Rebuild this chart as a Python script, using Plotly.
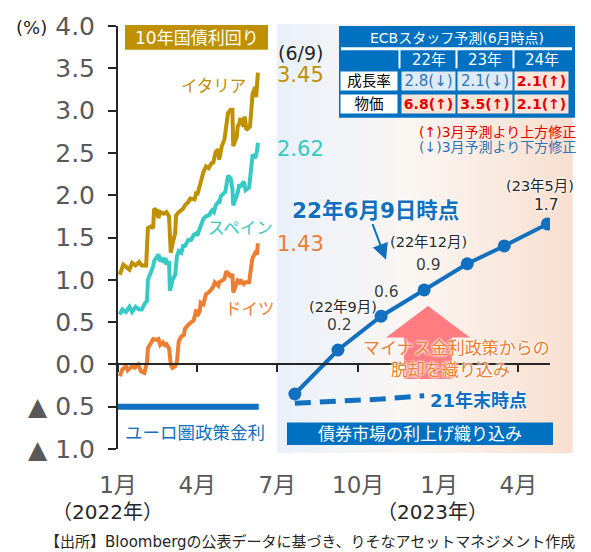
import plotly.graph_objects as go

# ---------------- data ----------------
italy_dates = ["2022-01-03","2022-01-07","2022-01-14","2022-01-17","2022-01-21","2022-01-25","2022-01-28",
               "2022-02-02","2022-02-03","2022-02-04","2022-02-07","2022-02-10","2022-02-11","2022-02-14",
               "2022-02-16","2022-02-18","2022-02-22","2022-02-25","2022-02-28","2022-03-01","2022-03-02",
               "2022-03-04","2022-03-07","2022-03-08","2022-03-11","2022-03-16","2022-03-18","2022-03-22",
               "2022-03-24","2022-03-29","2022-03-31","2022-04-01","2022-04-05","2022-04-08","2022-04-11",
               "2022-04-14","2022-04-18","2022-04-19","2022-04-22","2022-04-25","2022-04-26","2022-04-29",
               "2022-05-02","2022-05-04","2022-05-06","2022-05-09","2022-05-11","2022-05-12","2022-05-16",
               "2022-05-17","2022-05-19","2022-05-20","2022-05-24","2022-05-25","2022-05-27","2022-05-31",
               "2022-06-02","2022-06-03","2022-06-06","2022-06-07","2022-06-08","2022-06-09"]
italy_vals = [1.06,1.18,1.12,1.20,1.17,1.21,1.17,
              1.17,1.40,1.61,1.63,1.61,1.84,1.82,
              1.73,1.80,1.78,1.80,1.75,1.40,1.32,
              1.43,1.55,1.76,1.80,1.84,1.88,1.92,
              1.96,1.95,2.04,2.00,2.16,2.27,2.34,
              2.32,2.39,2.37,2.51,2.54,2.42,2.58,
              2.66,2.81,2.97,3.01,3.01,2.58,2.69,
              2.81,2.85,2.91,2.81,2.93,2.77,2.81,
              3.04,3.20,3.28,3.16,3.30,3.45]

spain_dates = ["2022-01-03","2022-01-06","2022-01-10","2022-01-14","2022-01-17","2022-01-21","2022-01-25",
               "2022-01-28","2022-02-01","2022-02-03","2022-02-04","2022-02-07","2022-02-10","2022-02-11",
               "2022-02-14","2022-02-16","2022-02-18","2022-02-21","2022-02-22","2022-02-24","2022-02-25",
               "2022-02-28","2022-03-01","2022-03-03","2022-03-04","2022-03-07","2022-03-09","2022-03-11",
               "2022-03-14","2022-03-16","2022-03-18","2022-03-22","2022-03-25","2022-03-28","2022-03-31",
               "2022-04-01","2022-04-05","2022-04-08","2022-04-11","2022-04-14","2022-04-18","2022-04-20",
               "2022-04-22","2022-04-25","2022-04-26","2022-04-28","2022-05-03","2022-05-05","2022-05-06",
               "2022-05-09","2022-05-11","2022-05-12","2022-05-16","2022-05-17","2022-05-19","2022-05-20",
               "2022-05-24","2022-05-26","2022-05-30","2022-06-01","2022-06-02","2022-06-03","2022-06-06",
               "2022-06-08","2022-06-09"]
spain_vals = [0.59,0.65,0.62,0.68,0.62,0.68,0.65,
              0.65,0.73,0.75,1.00,1.08,1.16,1.22,
              1.28,1.30,1.22,1.26,1.20,1.26,1.18,
              1.22,0.87,0.95,1.00,1.06,1.28,1.34,
              1.32,1.40,1.40,1.47,1.47,1.53,1.55,
              1.52,1.65,1.72,1.75,1.76,1.82,1.80,
              1.88,1.92,1.90,1.99,2.04,2.19,2.23,
              2.20,2.08,1.88,1.99,2.03,2.13,2.10,
              2.16,2.06,2.09,2.25,2.42,2.48,2.44,
              2.52,2.62]

germany_dates = ["2022-01-03","2022-01-06","2022-01-10","2022-01-12","2022-01-17","2022-01-20","2022-01-24",
                 "2022-01-27","2022-01-31","2022-02-02","2022-02-03","2022-02-04","2022-02-08","2022-02-10",
                 "2022-02-14","2022-02-16","2022-02-18","2022-02-21","2022-02-23","2022-02-25","2022-02-28",
                 "2022-03-02","2022-03-04","2022-03-07","2022-03-09","2022-03-10","2022-03-11","2022-03-14",
                 "2022-03-17","2022-03-18","2022-03-23","2022-03-28","2022-03-29","2022-03-31","2022-04-01",
                 "2022-04-04","2022-04-05","2022-04-08","2022-04-11","2022-04-14","2022-04-19","2022-04-21",
                 "2022-04-25","2022-04-26","2022-04-29","2022-05-02","2022-05-04","2022-05-06","2022-05-09",
                 "2022-05-11","2022-05-12","2022-05-16","2022-05-17","2022-05-19","2022-05-20","2022-05-24",
                 "2022-05-26","2022-05-30","2022-05-31","2022-06-02","2022-06-03","2022-06-06","2022-06-08",
                 "2022-06-09"]
germany_vals = [-0.14,-0.06,-0.02,-0.07,-0.02,-0.04,0.00,
                -0.08,-0.10,-0.03,0.03,0.19,0.25,0.30,
                0.29,0.30,0.23,0.26,0.23,0.24,0.19,
                0.00,-0.04,-0.02,0.03,0.23,0.27,0.33,
                0.35,0.42,0.48,0.52,0.58,0.65,0.57,
                0.63,0.73,0.71,0.83,0.85,0.91,0.97,
                0.93,0.97,0.99,1.01,1.10,1.08,1.03,
                1.07,0.85,0.95,0.99,0.97,1.00,0.95,
                0.97,0.97,1.08,1.20,1.26,1.32,1.30,
                1.43]

policy_dates = ["2022-01-01", "2022-06-10"]
policy_vals = [-0.5, -0.5]

meeting_dates = ["2022-07-21","2022-09-08","2022-10-27","2022-12-15","2023-02-02","2023-03-16","2023-05-04"]
pricing_jun9 = [-0.35, 0.17, 0.57, 0.88, 1.19, 1.40, 1.66]
end21_dates = ["2022-07-21","2022-09-08","2022-10-27","2022-12-15"]
pricing_end21 = [-0.46, -0.44, -0.41, -0.37]

x_tick_dates = ["2022-01-01","2022-04-01","2022-07-01","2022-10-01","2023-01-01","2023-04-01"]
x_tick_labels = ["1月","4月","7月","10月","1月","4月"]
y_tick_vals = [-1.0,-0.5,0.0,0.5,1.0,1.5,2.0,2.5,3.0,3.5,4.0]
y_tick_labels = ["▲ 1.0","▲ 0.5","0.0","0.5","1.0","1.5","2.0","2.5","3.0","3.5","4.0"]

ecb_years = ["22年","23年","24年"]
ecb_rows = ["成長率","物価"]
ecb_values = [[2.8, 2.1, 2.1], [6.8, 3.5, 2.1]]
ecb_revision = [["↓","↓","↑"], ["↑","↑","↑"]]

# ---------------- layout helpers ----------------
W, H = 591, 552
L, R, T, B = 118, 41, 20, 103
PW = W - L - R
PH = H - T - B
FONT = "DejaVu Sans, Noto Sans CJK JP, sans-serif"

def px(x):
    return (x - L) / PW

def py(y):
    return (H - B - y) / PH

GOLD = "#BF9000"
TURQ = "#36C9C6"
ORANGE = "#ED7D31"
BLUE = "#1170C0"
BOXBLUE = "#0070C0"
RED = "#E60000"
LBLUE = "#2E75B6"
GRAY = "#595959"
HALO = "0px 0px 3px white, 0px 0px 3px white, 0px 0px 2px white"

fig = go.Figure()
fig.add_trace(go.Scatter(x=italy_dates, y=italy_vals, mode="lines",
                         line=dict(color=GOLD, width=4), hoverinfo="skip"))
fig.add_trace(go.Scatter(x=spain_dates, y=spain_vals, mode="lines",
                         line=dict(color=TURQ, width=4), hoverinfo="skip"))
fig.add_trace(go.Scatter(x=germany_dates, y=germany_vals, mode="lines",
                         line=dict(color=ORANGE, width=4), hoverinfo="skip"))
fig.add_trace(go.Scatter(x=policy_dates, y=policy_vals, mode="lines",
                         line=dict(color=BLUE, width=6), hoverinfo="skip"))
fig.add_trace(go.Scatter(x=end21_dates, y=pricing_end21, mode="lines",
                         line=dict(color=BLUE, width=5, dash="16px,9px"), hoverinfo="skip"))
fig.add_trace(go.Scatter(x=meeting_dates, y=pricing_jun9, mode="lines+markers",
                         line=dict(color=BLUE, width=4),
                         marker=dict(color=BLUE, size=13), hoverinfo="skip"))
# invisible trace to host the bottom label axis
fig.add_trace(go.Scatter(x=x_tick_dates, y=[None]*len(x_tick_dates), xaxis="x2",
                         mode="markers", marker=dict(opacity=0), hoverinfo="skip"))

# ---------------- shapes ----------------
shapes = []
def lerp(a, b, t):
    return tuple(a[i] + (b[i] - a[i]) * t for i in range(3))
c0, c1, c2 = (234, 241, 250), (250, 246, 243), (249, 223, 207)
gx0, gx1, gy0, gy1 = 277, 572, 18, 453
N = 60
for i in range(N):
    t = (i + 0.5) / N
    c = lerp(c0, c1, t / 0.45) if t < 0.45 else lerp(c1, c2, (t - 0.45) / 0.55)
    xa = gx0 + (gx1 - gx0) * i / N
    xb = gx0 + (gx1 - gx0) * (i + 1) / N + 0.6
    shapes.append(dict(type="rect", xref="paper", yref="paper", layer="below",
                       x0=px(xa), x1=px(xb), y0=py(gy1), y1=py(gy0),
                       fillcolor="rgb(%d,%d,%d)" % tuple(int(round(v)) for v in c),
                       line=dict(width=0)))
shapes.append(dict(type="rect", xref="paper", yref="paper", x0=px(125), x1=px(268),
                   y0=py(44), y1=py(19), fillcolor=GOLD, line=dict(width=0)))
shapes.append(dict(type="rect", xref="paper", yref="paper", x0=px(287), x1=px(553),
                   y0=py(445), y1=py(422), fillcolor=BOXBLUE, line=dict(width=0)))
pts = [(428, 304), (470, 336), (452, 336), (452, 378), (404, 378), (404, 336), (386, 336)]
path = "M " + " L ".join("%f,%f" % (px(a), py(b)) for a, b in pts) + " Z"
shapes.append(dict(type="path", xref="paper", yref="paper", path=path,
                   fillcolor="#FF7C80", line=dict(width=0), layer="above"))
shapes.append(dict(type="rect", xref="paper", yref="paper", x0=px(339), x1=px(575),
                   y0=py(113), y1=py(20), fillcolor=BOXBLUE, line=dict(width=0)))
shapes.append(dict(type="line", xref="paper", yref="paper", x0=px(341), x1=px(572),
                   y0=py(43), y1=py(43), line=dict(color="white", width=3)))
for sx in [399.5, 456.5, 513.5]:
    shapes.append(dict(type="line", xref="paper", yref="paper", x0=px(sx), x1=px(sx),
                       y0=py(43), y1=py(63), line=dict(color="white", width=2)))

# ---------------- annotations ----------------
ann = []
def text(x, y, t, size, color, xanchor="center", shadow=None, **kw):
    f = dict(size=size, color=color, family=FONT)
    if shadow:
        f["shadow"] = shadow
    d = dict(x=px(x), y=py(y), xref="paper", yref="paper", text=t, showarrow=False,
             font=f, xanchor=xanchor, yanchor="middle")
    d.update(kw)
    ann.append(d)

text(31, 22, "(%)", 18, "#262626")
text(197, 32, "10年国債利回り", 17, "white")
text(300, 47, "(6/9)", 19, "#262626")
text(300, 70, "%.2f" % italy_vals[-1], 21, GOLD)
text(300, 145, "%.2f" % spain_vals[-1], 21, TURQ)
text(300, 241, "%.2f" % germany_vals[-1], 21, ORANGE)
text(213, 81, "イタリア", 16.5, GOLD)
text(240, 225, "スペイン", 16.5, TURQ)
text(250, 308, "ドイツ", 16.5, ORANGE)
text(195, 433, "ユーロ圏政策金利", 17.5, BLUE)
text(420, 434, "債券市場の利上げ織り込み", 17, "white")
text(375, 207, "<b>22年6月9日時点</b>", 21.5, BLUE, shadow=HALO)
ann.append(dict(x=px(386), y=py(257), xref="paper", yref="paper", text="",
                showarrow=True, ax=-14, ay=-37, arrowcolor=BLUE, arrowwidth=2,
                arrowhead=2, arrowsize=1.6))
text(428, 239, "(22年12月)", 14.5, "#262626", shadow=HALO)
text(428, 262, "%.1f" % pricing_jun9[3], 15.5, "#404040", shadow=HALO)
text(386, 290, "%.1f" % pricing_jun9[2], 15.5, "#404040", shadow=HALO)
text(343, 305, "(22年9月)", 14.5, "#262626", shadow=HALO)
text(339, 323, "%.1f" % pricing_jun9[1], 15.5, "#404040", shadow=HALO)
text(540, 182, "(23年5月)", 14.5, "#262626", shadow=HALO)
text(546, 202, "%.1f" % pricing_jun9[-1], 15.5, "#262626", shadow=HALO)
text(456, 347, "マイナス金利政策からの", 17, ORANGE, shadow=HALO)
text(450, 369, "脱却を織り込み", 17, ORANGE, shadow=HALO)
text(478, 400, "<b>21年末時点</b>", 18, BLUE, shadow=HALO)

text(457, 32, "ECBスタッフ予測(6月時点)", 14, "white")
col_cx = [428.5, 485, 541.5]
col_w = [53, 54, 53]
row_cy = [76, 99]
for j, yname in enumerate(ecb_years):
    text(col_cx[j], 54, yname, 15, "white")
for i, rname in enumerate(ecb_rows):
    ann.append(dict(x=px(369), y=py(row_cy[i]), xref="paper", yref="paper", text=rname,
                    showarrow=False, font=dict(size=14.5, color="black", family=FONT),
                    xanchor="center", yanchor="middle", bgcolor="white",
                    width=56, height=18, borderpad=0))
    for j in range(3):
        up = ecb_revision[i][j] == "↑"
        label = "%.1f(%s)" % (ecb_values[i][j], ecb_revision[i][j])
        if up:
            label = "<b>" + label + "</b>"
        ann.append(dict(x=px(col_cx[j]), y=py(row_cy[i]), xref="paper", yref="paper",
                        text=label, showarrow=False,
                        font=dict(size=14 if up else 15, color=RED if up else LBLUE, family=FONT),
                        xanchor="center", yanchor="middle",
                        bgcolor="#FCE4D6" if up else "#DDEBF7",
                        width=col_w[j], height=18, borderpad=0))
text(417, 127, "(↑)3月予測より上方修正", 14, RED, xanchor="left")
text(417, 143, "(↓)3月予測より下方修正", 14, LBLUE, xanchor="left")

text(107, 513, "（2022年）", 20, "#262626")
text(432, 513, "（2023年）", 20, "#262626")
text(310, 543, "【出所】Bloombergの公表データに基づき、りそなアセットマネジメント作成", 15, "#262626")

fig.update_layout(
    width=W, height=H,
    margin=dict(l=L, r=R, t=T, b=B, pad=0),
    paper_bgcolor="white", plot_bgcolor="rgba(0,0,0,0)",
    showlegend=False,
    font=dict(family=FONT),
    shapes=shapes,
    annotations=ann,
    xaxis=dict(type="date", range=["2022-01-01", "2023-05-07"], anchor="free", position=py(363),
               showline=True, linecolor="#262626", linewidth=2,
               ticks="outside", ticklen=7, tickwidth=2, tickcolor="#262626",
               tickvals=x_tick_dates, showticklabels=False,
               showgrid=False, zeroline=False, fixedrange=True),
    xaxis2=dict(type="date", overlaying="x", matches="x", anchor="y", side="bottom",
                tickvals=x_tick_dates, ticktext=x_tick_labels,
                ticks="outside", ticklen=15, tickcolor="rgba(0,0,0,0)",
                tickfont=dict(size=23, color=GRAY, family=FONT),
                showline=False, showgrid=False, zeroline=False),
    yaxis=dict(range=[-1, 4], tickvals=y_tick_vals, ticktext=y_tick_labels,
               showline=True, linecolor="#262626", linewidth=2,
               ticks="outside", ticklen=8, tickwidth=2, tickcolor="#262626",
               tickfont=dict(size=25, color=GRAY, family=FONT),
               ticklabelstandoff=8,
               showgrid=False, zeroline=False, fixedrange=True),
)

fig.write_html("out.html")
